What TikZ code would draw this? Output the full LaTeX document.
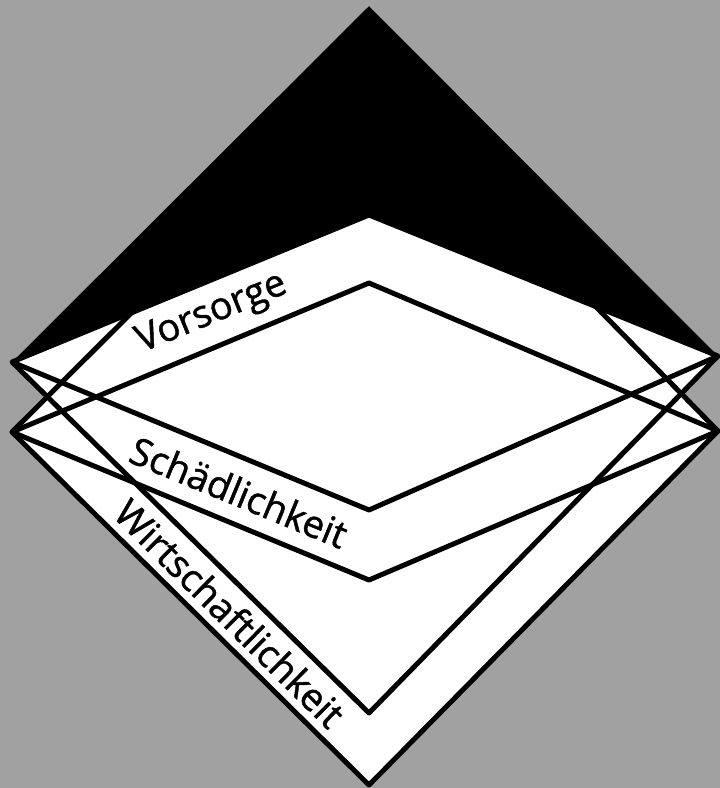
\documentclass[tikz,border=0pt]{standalone}
\usepackage{fontspec}
\setmainfont{Open Sans}[FakeBold=1.2]
\usetikzlibrary{positioning}
\definecolor{hintergrund}{gray}{0.63}
\tikzset{
  rand/.style={draw, line width=5pt, line join=round},
  feld/.style={fill=white},
  kappe/.style={fill=black},
  schrift/.style={font=\fontsize{38}{40}\selectfont, inner sep=0pt},
}

\begin{document}
\begin{tikzpicture}[x=1pt, y=-1pt]
  \fill[hintergrund] (0,0) rectangle (720,788);
  \useasboundingbox (0,0) rectangle (720,788);

  % Eckpunkte
  \coordinate (L1) at (12,362);
  \coordinate (L2) at (12,432);
  \coordinate (R1) at (718,356);
  \coordinate (R2) at (718,431);
  \coordinate (At) at (369,6);
  \coordinate (Ab) at (369,713);
  \coordinate (Bt) at (369,76);
  \coordinate (Bb) at (369,785);
  \coordinate (Ct) at (369,215);
  \coordinate (Cb) at (369,510);
  \coordinate (Dt) at (369,283);
  \coordinate (Db) at (369,580);

  \fill[feld] (At) -- (L1) -- (Ab) -- (R1) -- cycle;
  \fill[feld] (Bt) -- (L2) -- (Bb) -- (R2) -- cycle;

  \draw[rand] (L1) -- (Ab) -- (R1);
  \draw[rand] (Bt) -- (L2) -- (Bb) -- (R2) -- cycle;
  \draw[rand] (Ct) -- (L1) -- (Cb) -- (R1) -- cycle;
  \draw[rand] (Dt) -- (L2) -- (Db) -- (R2) -- cycle;

  % schwarze Spitze
  \fill[kappe] (At) -- (L1) -- (Ct) -- (R1) -- cycle;

  \node[schrift, rotate=22.4] (vorsorge) at (212,314) {Vorsorge};
  \node[schrift, rotate=-22.4] (schaed) at (239,492) {Schädlichkeit};
  \node[schrift, rotate=-44.7] (wirt) at (230,613) {Wirtschaftlichkeit};
\end{tikzpicture}
\end{document}
